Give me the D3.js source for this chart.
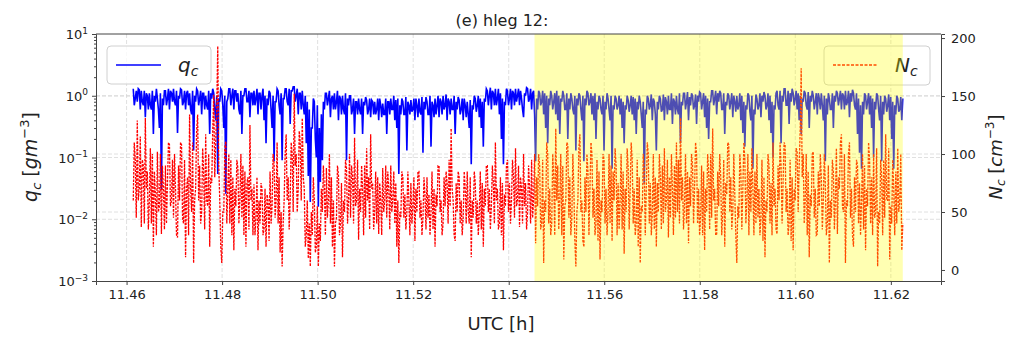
<!DOCTYPE html>
<html>
<head>
<meta charset="utf-8">
<script src="https://cdn.jsdelivr.net/npm/d3@7"></script>
<style>
  body { margin: 0; background: #fff; }
  text { font-family: "DejaVu Sans", sans-serif; fill: #222; }
</style>
</head>
<body>
<svg id="chart" width="1009" height="338"></svg>
<script>
// sampling of the record (UTC hours)
const tStart = 11.4614;
const tEnd = 11.6225;

// liquid water content q_c [g m^-3].
// the record is sampled in pairs: a reading (A) and the next one (B)
const qcA = [
  1.3, 0.9, 0.8, 1.25, 1.2, 0.7, 0.45, 1.0, 1.1, 0.6, 0.24, 0.8, 0.9, 0.3, 0.03, 0.7, 1.2, 0.9, 0.6, 1.1,
  1.3, 0.7, 0.25, 0.9, 1.25, 0.8, 0.6, 1.2, 1.1, 0.5, 0.13, 0.8, 1.2, 0.9, 0.5, 1.1, 1.0, 0.6, 0.24, 0.9,
  1.1, 0.4, 0.054, 0.8, 1.2, 0.3, 0.026, 0.9, 1.3, 1.0, 0.6, 1.2, 1.1, 0.5, 0.24, 1.0, 1.3, 0.8, 0.45, 1.1,
  1.2, 0.9, 0.5, 1.1, 1.0, 0.4, 0.17, 0.7, 1.1, 0.3, 0.087, 0.8, 1.2, 0.5, 0.09, 0.9, 1.3, 0.7, 0.35, 1.2,
  1.4, 1.0, 0.5, 1.1, 1.2, 0.5, 0.17, 0.05, 0.019, 0.3, 0.8, 0.1, 0.016, 0.04, 0.09, 0.6, 1.1, 0.9, 0.45, 1.0,
  1.1, 0.8, 0.4, 0.9, 1.0, 0.5, 0.09, 0.7, 1.0, 0.6, 0.24, 0.8, 0.9, 0.5, 0.24, 0.7, 0.85, 0.6, 0.45, 0.8,
  0.8, 0.6, 0.4, 0.7, 0.75, 0.5, 0.24, 0.8, 0.9, 0.6, 0.4, 0.3, 0.054, 0.5, 0.8, 0.5, 0.13, 0.7, 0.85, 0.6,
  0.4, 0.7, 0.9, 0.5, 0.12, 0.6, 0.8, 0.5, 0.15, 0.7, 0.9, 0.7, 0.45, 0.8, 1.0, 0.7, 0.4, 0.8, 0.9, 0.6,
  0.24, 0.6, 0.85, 0.6, 0.4, 0.7, 0.8, 0.3, 0.078, 0.6, 0.9, 0.7, 0.45, 0.3, 0.15, 0.8, 1.2, 1.0, 0.6, 1.1,
  1.3, 0.9, 0.5, 0.2, 0.078, 0.7, 1.2, 0.9, 0.6, 1.1, 1.3, 1.0, 0.7, 0.9, 0.45, 1.0, 1.3, 0.9, 0.6, 1.2,
  0.087, 0.6, 1.1, 0.8, 0.5, 0.3, 0.17, 0.7, 1.0, 0.8, 0.5, 0.4, 0.24, 0.8, 1.0, 0.6, 0.2, 0.6, 0.9, 0.5,
  0.13, 0.7, 1.0, 0.4, 0.087, 0.7, 1.1, 0.8, 0.5, 0.4, 0.2, 0.6, 0.9, 0.5, 0.13, 0.6, 0.9, 0.4, 0.066, 0.6,
  0.9, 0.7, 0.5, 0.3, 0.17, 0.6, 0.85, 0.7, 0.5, 0.4, 0.24, 0.6, 0.8, 0.3, 0.037, 0.5, 0.9, 0.7, 0.4, 0.8,
  0.13, 0.6, 0.9, 0.6, 0.4, 0.8, 1.0, 0.6, 0.35, 0.8, 1.0, 0.5, 0.17, 0.7, 1.1, 0.8, 0.4, 0.7, 1.0, 0.7,
  0.35, 0.8, 1.1, 0.8, 0.45, 0.3, 0.2, 0.8, 1.2, 0.9, 0.5, 0.8, 1.1, 0.6, 0.24, 0.7, 1.0, 0.8, 0.45, 0.8,
  1.0, 0.7, 0.4, 0.25, 0.15, 0.6, 1.0, 0.4, 0.066, 0.5, 0.9, 0.7, 0.45, 0.8, 1.0, 0.7, 0.4, 0.25, 0.1, 0.6,
  1.2, 0.6, 0.17, 0.8, 1.3, 0.7, 0.35, 0.8, 1.1, 0.9, 0.6, 0.4, 0.24, 0.8, 1.1, 0.6, 0.3, 0.8, 1.0, 0.8,
  0.5, 0.9, 1.1, 0.4, 0.087, 0.5, 0.9, 0.6, 0.3, 0.8, 1.1, 0.9, 0.6, 1.0, 1.2, 0.8, 0.45, 0.8, 1.1, 0.6,
  0.24, 0.12, 0.066, 0.5, 1.0, 0.8, 0.5, 0.3, 0.1, 0.6, 1.0, 0.4, 0.087, 0.5, 0.9, 0.7, 0.4, 0.2, 0.066, 0.5,
  0.9, 0.6, 0.4
];
const qcB = [
  0.7, 1.2, 1.3, 0.6, 0.8, 1.2, 1.1, 0.6, 0.7, 1.2, 1.0, 1.3, 0.6, 1.1, 0.9, 1.2, 0.7, 1.3, 1.2, 0.8,
  0.8, 1.2, 1.0, 1.3, 0.7, 1.2, 1.1, 0.7, 0.6, 1.2, 1.0, 1.3, 0.7, 1.2, 1.1, 0.6, 0.7, 1.2, 1.1, 1.3,
  0.6, 1.0, 0.9, 1.3, 0.7, 1.0, 0.8, 1.3, 0.7, 1.3, 1.2, 0.8, 0.6, 1.2, 1.0, 1.3, 0.8, 1.2, 1.1, 0.7,
  0.7, 1.3, 1.1, 0.6, 1.3, 1.0, 0.9, 1.2, 0.6, 1.0, 0.8, 1.3, 0.7, 1.1, 0.9, 1.3, 0.8, 1.3, 1.2, 1.4,
  0.8, 1.3, 1.1, 0.6, 0.7, 1.0, 0.8, 0.6, 0.3, 0.9, 0.2, 0.7, 0.3, 0.5, 0.8, 1.1, 0.7, 1.2, 0.9, 0.6,
  0.6, 1.2, 1.0, 0.5, 0.6, 1.1, 0.9, 1.0, 0.5, 0.9, 0.8, 0.5, 0.6, 0.9, 0.8, 0.95, 0.5, 0.9, 0.85, 0.5,
  0.5, 0.9, 0.9, 0.45, 0.5, 0.9, 0.8, 0.5, 0.6, 1.0, 0.85, 0.9, 0.7, 0.9, 0.5, 0.95, 0.8, 0.5, 0.55, 0.9,
  0.9, 0.45, 0.55, 0.95, 0.8, 0.95, 0.5, 1.0, 0.8, 0.45, 0.5, 1.0, 0.9, 0.5, 0.6, 1.05, 0.9, 0.5, 0.6, 1.0,
  0.8, 0.95, 0.5, 0.9, 0.9, 0.45, 0.5, 0.85, 0.7, 1.0, 0.55, 1.0, 0.9, 0.8, 0.9, 1.3, 0.7, 1.35, 1.2, 0.7,
  0.7, 1.3, 1.1, 0.9, 0.8, 1.3, 0.7, 1.3, 1.2, 0.7, 0.8, 1.3, 1.2, 0.6, 1.1, 1.35, 0.8, 1.3, 1.1, 0.5,
  0.9, 1.2, 0.7, 1.2, 1.1, 1.0, 0.9, 1.2, 0.6, 1.1, 1.2, 1.0, 0.9, 1.2, 0.6, 1.1, 0.9, 1.1, 0.6, 1.0,
  0.9, 1.1, 0.6, 1.0, 0.9, 1.2, 0.7, 1.1, 1.0, 1.1, 0.8, 1.0, 0.6, 1.0, 0.8, 1.1, 0.6, 1.0, 0.7, 1.0,
  0.6, 1.0, 0.9, 0.8, 0.7, 1.0, 0.55, 1.0, 0.95, 0.9, 0.8, 1.0, 0.5, 0.8, 0.6, 1.0, 0.6, 1.05, 0.9, 0.5,
  0.8, 1.0, 0.55, 1.05, 0.95, 0.5, 0.6, 1.1, 0.9, 0.5, 0.6, 1.1, 0.8, 1.1, 0.6, 1.15, 0.95, 1.1, 0.6, 1.05,
  1.0, 1.15, 0.6, 1.1, 1.0, 0.9, 0.8, 1.2, 0.7, 1.2, 1.1, 1.2, 0.6, 1.1, 0.8, 1.1, 0.6, 1.1, 1.0, 0.55,
  0.6, 1.1, 1.0, 0.8, 0.7, 1.1, 0.55, 1.0, 0.6, 1.05, 0.6, 1.1, 1.0, 1.15, 0.6, 1.1, 1.0, 0.8, 0.7, 1.1,
  0.7, 1.2, 1.0, 1.3, 0.7, 1.2, 1.1, 1.3, 0.7, 1.2, 1.1, 1.0, 0.9, 1.2, 0.7, 1.15, 1.0, 1.2, 0.6, 1.1,
  1.1, 0.6, 0.7, 1.0, 0.9, 1.1, 0.6, 1.1, 1.0, 1.2, 0.7, 1.2, 1.1, 0.6, 0.7, 1.2, 1.1, 1.25, 0.7, 1.1,
  0.9, 0.7, 0.8, 1.1, 0.6, 1.1, 1.0, 0.9, 0.8, 1.1, 0.6, 1.0, 0.8, 1.0, 0.55, 1.05, 0.95, 0.8, 0.7, 1.0,
  0.55, 0.95, 0.9
];

// droplet number concentration N_c [cm^-3] (same pairing)
const ncA = [
  60, 95, 129, 70, 37, 90, 131, 85, 60, 40, 20, 65, 102, 55, 31, 70, 90, 75, 108, 60,
  45, 70, 28, 60, 108, 40, 11, 80, 134, 50, 6, 70, 134, 90, 50, 85, 117, 55, 20, 75,
  151, 110, 193, 60, 6, 50, 111, 70, 40, 30, 17, 55, 88, 60, 45, 30, 20, 80, 125, 70,
  74, 45, 17, 40, 70, 35, 20, 60, 85, 55, 92, 60, 40, 15, 3, 60, 117, 80, 60, 100,
  152, 100, 70, 110, 131, 70, 30, 10, 3, 30, 60, 20, 3, 25, 50, 70, 88, 60, 40, 20,
  3, 45, 82, 40, 11, 50, 88, 60, 45, 80, 114, 60, 26, 50, 70, 90, 105, 80, 117, 75,
  50, 40, 31, 60, 88, 60, 45, 70, 90, 60, 40, 20, 6, 45, 80, 65, 50, 60, 75, 55,
  25, 50, 85, 60, 45, 65, 80, 65, 50, 35, 20, 55, 90, 60, 40, 55, 75, 95, 122, 60,
  25, 50, 80, 60, 45, 70, 85, 40, 11, 45, 75, 60, 50, 35, 20, 55, 90, 70, 55, 75,
  110, 70, 40, 30, 17, 55, 95, 75, 60, 80, 105, 60, 37, 70, 100, 75, 50, 70, 95, 60,
  23, 55, 90, 40, 6, 50, 100, 70, 40, 80, 122, 90, 60, 30, 9, 60, 108, 80, 45, 70,
  3, 60, 117, 60, 20, 50, 85, 70, 100, 70, 40, 25, 9, 50, 95, 70, 50, 40, 25, 60,
  90, 75, 60, 35, 14, 50, 88, 70, 95, 70, 40, 20, 6, 50, 85, 70, 100, 75, 50, 35,
  20, 50, 80, 90, 105, 60, 28, 45, 70, 90, 110, 95, 131, 80, 55, 40, 23, 55, 90, 70,
  100, 70, 45, 30, 17, 50, 85, 100, 122, 70, 31, 55, 80, 50, 20, 65, 108, 80, 50, 65,
  6, 45, 85, 70, 95, 60, 30, 50, 70, 85, 100, 70, 45, 25, 11, 50, 90, 75, 110, 70,
  31, 60, 90, 75, 108, 70, 40, 25, 17, 60, 102, 90, 174, 100, 60, 30, 11, 55, 102, 70,
  31, 55, 80, 60, 74, 40, 6, 45, 85, 60, 31, 70, 117, 50, 6, 55, 110, 70, 20, 50,
  90, 75, 60, 35, 17, 55, 95, 80, 100, 50, 3, 40, 80, 95, 117, 60, 9, 40, 70, 85,
  105, 60, 17
];
const ncB = [
  110, 45, 60, 115, 95, 40, 70, 35, 105, 100, 85, 30, 50, 100, 90, 35, 40, 110, 55, 95,
  100, 30, 90, 110, 45, 95, 70, 30, 70, 110, 60, 120, 60, 40, 105, 35, 60, 100, 80, 120,
  80, 140, 90, 20, 50, 105, 40, 100, 95, 80, 70, 95, 40, 100, 90, 85, 75, 35, 60, 30,
  30, 80, 60, 75, 30, 70, 65, 25, 40, 100, 45, 110, 80, 50, 40, 100, 60, 35, 110, 50,
  90, 50, 120, 60, 80, 20, 60, 40, 50, 80, 15, 55, 40, 70, 90, 30, 45, 100, 80, 60,
  40, 90, 30, 75, 60, 95, 40, 100, 90, 40, 55, 95, 70, 90, 30, 45, 60, 35, 70, 35,
  85, 80, 75, 30, 50, 90, 85, 35, 50, 85, 75, 60, 50, 85, 45, 35, 85, 30, 40, 80,
  70, 85, 45, 30, 80, 35, 45, 30, 85, 70, 65, 90, 50, 30, 80, 85, 40, 55, 70, 30,
  75, 85, 40, 30, 85, 40, 50, 80, 60, 85, 40, 30, 85, 75, 70, 90, 50, 35, 90, 40,
  60, 35, 80, 75, 65, 90, 50, 40, 95, 45, 55, 90, 80, 40, 55, 35, 90, 40, 45, 100,
  80, 100, 35, 95, 60, 110, 40, 30, 100, 30, 60, 35, 100, 90, 55, 110, 45, 30, 100, 25,
  50, 105, 50, 25, 80, 100, 30, 110, 45, 30, 95, 85, 60, 100, 40, 30, 100, 90, 85, 105,
  30, 35, 100, 85, 70, 105, 35, 110, 40, 30, 95, 80, 55, 100, 30, 110, 40, 30, 100, 80,
  75, 100, 35, 40, 50, 95, 80, 100, 30, 45, 50, 40, 60, 35, 100, 85, 80, 100, 40, 110,
  40, 30, 90, 85, 70, 100, 35, 45, 60, 30, 85, 100, 30, 95, 75, 110, 50, 35, 100, 30,
  55, 100, 35, 110, 40, 100, 85, 105, 30, 40, 45, 30, 95, 80, 60, 100, 40, 30, 55, 35,
  90, 110, 40, 110, 50, 30, 95, 80, 70, 105, 50, 120, 80, 40, 100, 85, 65, 100, 45, 30,
  85, 100, 35, 100, 30, 90, 60, 95, 35, 105, 80, 110, 55, 100, 60, 100, 45, 30, 80, 95,
  40, 30, 100, 90, 70, 110, 40, 30, 45, 105, 50, 95, 30, 45, 60, 105, 55, 95, 30, 40,
  50, 100, 40
];

// highlighted interval
const spanStart = 11.5454;
const spanEnd = 11.6225;

const xTicks = [11.46, 11.48, 11.50, 11.52, 11.54, 11.56, 11.58, 11.60, 11.62];
const yLeftTicks = [1e-3, 1e-2, 1e-1, 1e0, 1e1];
const yLeftExp = ["\u22123", "\u22122", "\u22121", "0", "1"];
const yRightTicks = [0, 50, 100, 150, 200];

const qc = qcA.flatMap((a, i) => [a, qcB[i]]);
const nc = ncA.flatMap((a, i) => [a, ncB[i]]);

const svg = d3.select("#chart");
const margin = { left: 96, right: 941, top: 34, bottom: 281 };

const x = d3.scaleLinear().domain([11.4536, 11.6305]).range([margin.left, margin.right]);
const yL = d3.scaleLog().domain([1e-3, 1e1]).range([margin.bottom, margin.top]);
const yR = d3.scaleLinear().domain([-9.5, 203.5]).range([margin.bottom, margin.top]);

const dt = (tEnd - tStart) / (qc.length - 1);
const times = qc.map((d, i) => tStart + i * dt);

svg.append("defs").append("clipPath").attr("id", "plotclip")
  .append("rect")
  .attr("x", margin.left).attr("y", margin.top)
  .attr("width", margin.right - margin.left)
  .attr("height", margin.bottom - margin.top);

// grid
const grid = svg.append("g").attr("stroke", "#d8d8d8").attr("stroke-width", 0.8)
  .attr("stroke-dasharray", "4,2");
grid.selectAll(".gx").data(xTicks).enter().append("line")
  .attr("x1", d => x(d)).attr("x2", d => x(d))
  .attr("y1", margin.top).attr("y2", margin.bottom);
grid.selectAll(".gl").data(yLeftTicks.slice(1, 4)).enter().append("line")
  .attr("x1", margin.left).attr("x2", margin.right)
  .attr("y1", d => yL(d)).attr("y2", d => yL(d));
grid.selectAll(".gr").data(yRightTicks.slice(1, 4)).enter().append("line")
  .attr("x1", margin.left).attr("x2", margin.right)
  .attr("y1", d => yR(d)).attr("y2", d => yR(d));

const plot = svg.append("g").attr("clip-path", "url(#plotclip)");

// q_c line
const lineQ = d3.line().x((d, i) => x(times[i])).y(d => yL(d));
plot.append("path").datum(qc)
  .attr("d", lineQ)
  .attr("fill", "none")
  .attr("stroke", "#0000ff")
  .attr("stroke-width", 1.6);

// N_c line (twin axis)
const lineN = d3.line().x((d, i) => x(times[i])).y(d => yR(d));
plot.append("path").datum(nc)
  .attr("d", lineN)
  .attr("fill", "none")
  .attr("stroke", "#ff0000")
  .attr("stroke-width", 1.3)
  .attr("stroke-dasharray", "2.5,1.2");

// legends
function legend(x0, y0, w, h, color, dash, name) {
  const g = svg.append("g");
  g.append("rect")
    .attr("x", x0).attr("y", y0).attr("width", w).attr("height", h)
    .attr("rx", 4).attr("fill", "#fff").attr("fill-opacity", 0.8)
    .attr("stroke", "#d0d0d0").attr("stroke-width", 1);
  g.append("line")
    .attr("x1", x0 + 9).attr("x2", x0 + 54)
    .attr("y1", y0 + 19).attr("y2", y0 + 19)
    .attr("stroke", color).attr("stroke-width", 1.5)
    .attr("stroke-dasharray", dash);
  const t = g.append("text")
    .attr("x", x0 + 71).attr("y", y0 + 26)
    .attr("font-size", 20).attr("font-style", "italic");
  t.append("tspan").text(name);
  t.append("tspan").attr("font-size", 14).attr("dy", 4).text("c");
}
legend(107, 46, 104, 38, "#0000ff", null, "q");
legend(824, 46, 106, 39, "#ff0000", "3,1.5", "N");

// highlighted period drawn on top
svg.append("rect")
  .attr("x", x(spanStart)).attr("y", margin.top)
  .attr("width", x(spanEnd) - x(spanStart))
  .attr("height", margin.bottom - margin.top)
  .attr("fill", "#ffff00").attr("fill-opacity", 0.3);

// axes
const axisB = svg.append("g")
  .attr("transform", "translate(0," + margin.bottom + ")")
  .call(d3.axisBottom(x).tickValues(xTicks).tickSize(4).tickPadding(5).tickFormat(d3.format(".2f")));
axisB.selectAll("text").attr("font-size", 13).style("font-family", "DejaVu Sans");

const minors = [];
for (let e = -3; e < 1; e++) for (let m = 2; m < 10; m++) minors.push(m * Math.pow(10, e));
svg.append("g")
  .attr("transform", "translate(" + margin.left + ",0)")
  .call(d3.axisLeft(yL).tickValues(minors).tickSize(2).tickFormat(""))
  .call(g => g.select(".domain").remove());

const axisL = svg.append("g")
  .attr("transform", "translate(" + margin.left + ",0)")
  .call(d3.axisLeft(yL).tickValues(yLeftTicks).tickSize(4).tickPadding(4).tickFormat(""));
axisL.selectAll(".tick").append("text")
  .attr("x", -8).attr("dy", "0.35em")
  .attr("text-anchor", "end").attr("font-size", 13)
  .each(function (d, i) {
    const t = d3.select(this);
    t.append("tspan").text("10");
    t.append("tspan").attr("font-size", 9).attr("dy", "-0.6em").text(yLeftExp[i]);
  });

const axisR = svg.append("g")
  .attr("transform", "translate(" + margin.right + ",0)")
  .call(d3.axisRight(yR).tickValues(yRightTicks).tickSize(4).tickPadding(6));
axisR.selectAll("text").attr("font-size", 13).style("font-family", "DejaVu Sans");

svg.selectAll(".domain").attr("stroke", "#444");
svg.selectAll(".tick line").attr("stroke", "#444");

// top spine
svg.append("line")
  .attr("x1", margin.left).attr("x2", margin.right)
  .attr("y1", margin.top).attr("y2", margin.top)
  .attr("stroke", "#444");

// title and labels
svg.append("text").attr("x", 502).attr("y", 26)
  .attr("text-anchor", "middle").attr("font-size", 16).text("(e) hleg 12:");

svg.append("text").attr("x", 501).attr("y", 330)
  .attr("text-anchor", "middle").attr("font-size", 18).text("UTC [h]");

const ql = svg.append("text")
  .attr("transform", "translate(37,157) rotate(-90)")
  .attr("text-anchor", "middle").attr("font-size", 19);
ql.append("tspan").attr("font-style", "italic").text("q");
ql.append("tspan").attr("font-style", "italic").attr("font-size", 13).attr("dy", 4).text("c");
ql.append("tspan").attr("dy", -4).text(" [");
ql.append("tspan").attr("font-style", "italic").text("gm");
ql.append("tspan").attr("font-size", 13).attr("dy", -8).text("\u22123");
ql.append("tspan").attr("dy", 8).text("]");

const nl = svg.append("text")
  .attr("transform", "translate(1002,157) rotate(-90)")
  .attr("text-anchor", "middle").attr("font-size", 18);
nl.append("tspan").attr("font-style", "italic").text("N");
nl.append("tspan").attr("font-style", "italic").attr("font-size", 12).attr("dy", 3).text("c");
nl.append("tspan").attr("dy", -3).text(" [");
nl.append("tspan").attr("font-style", "italic").text("cm");
nl.append("tspan").attr("font-size", 12).attr("dy", -8).text("\u22123");
nl.append("tspan").attr("dy", 8).text("]");
</script>
</body>
</html>
